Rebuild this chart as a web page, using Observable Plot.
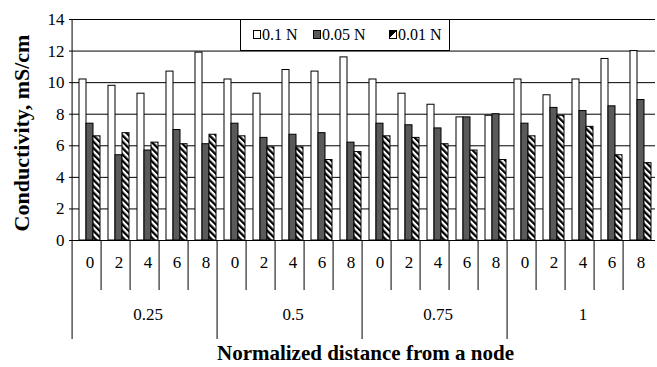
<!DOCTYPE html>
<html><head><meta charset="utf-8">
<script src="https://cdn.jsdelivr.net/npm/d3@7"></script>
<script src="https://cdn.jsdelivr.net/npm/@observablehq/plot@0.6"></script>
<style>
body{margin:0;background:#fff;}
#wrap{position:relative;width:657px;height:367px;font-family:"Liberation Serif",serif;color:#000;}
#legend{position:absolute;left:240px;top:19px;width:210px;height:32px;box-sizing:border-box;border:1px solid #000;background:#fff;font-size:16px;}
#legend .it{position:absolute;top:6px;white-space:nowrap;line-height:18px;}
#legend .sw{display:inline-block;width:6px;height:7px;border:1px solid #000;margin-right:1px;vertical-align:1px;}
</style></head>
<body><div id="wrap"></div>
<script>
const groups = ["0.25", "0.5", "0.75", "1"];
const distances = ["0", "2", "4", "6", "8"];
const series = ["0.1 N", "0.05 N", "0.01 N"];
const values01 = [10.2, 9.8, 9.3, 10.7, 11.9, 10.2, 9.3, 10.8, 10.7, 11.6, 10.2, 9.3, 8.6, 7.8, 7.9, 10.2, 9.2, 10.2, 11.5, 12.0];
const values005 = [7.4, 5.4, 5.7, 7.0, 6.1, 7.4, 6.5, 6.7, 6.8, 6.2, 7.4, 7.3, 7.1, 7.8, 8.0, 7.4, 8.4, 8.2, 8.5, 8.9];
const values001 = [6.6, 6.8, 6.2, 6.1, 6.7, 6.6, 5.9, 5.9, 5.1, 5.6, 6.6, 6.5, 6.1, 5.7, 5.1, 6.6, 7.9, 7.2, 5.4, 4.9];
const yTicks = [0, 2, 4, 6, 8, 10, 12, 14];
const yLabel = "Conductivity, mS/cm";
const xLabel = "Normalized distance from a node";

const seriesValues = [values01, values005, values001];
const fills = ["#fff", "#5a5a5a", "url(#hatch)"];
const W = 657, H = 367, mL = 74, mR = 1, mT = 19, mB = 127;
const frameH = H - mT - mB;

const keys = [];
groups.forEach(g => distances.forEach(d => keys.push(g + "|" + d)));
const slots = keys.map((k, i) => ({key: k, group: k.split("|")[0], dist: k.split("|")[1], i}));
const rows = [];
series.forEach((s, si) => keys.forEach((k, i) => rows.push({key: k, series: s, value: seriesValues[si][i]})));
const bw = (W - mL - mR) / keys.length / 4;

const chart = Plot.plot({
  width: W, height: H, marginLeft: mL, marginRight: mR, marginTop: mT, marginBottom: mB,
  style: {fontFamily: "'Liberation Serif', serif", fontSize: "16px", color: "#000", background: "#fff"},
  fx: {domain: keys, padding: 0, axis: null},
  x: {domain: series, paddingInner: 0, paddingOuter: 0.5, axis: null},
  y: {domain: [0, 14], axis: null},
  marks: [
    Plot.gridY(yTicks, {stroke: "#000", strokeOpacity: 1, strokeWidth: 1}),
    ...series.map((s, si) => Plot.barY(rows.filter(r => r.series === s), {fx: "key", x: "series", y: "value", fill: fills[si], stroke: "#000", strokeWidth: 1})),
    Plot.ruleY([0], {stroke: "#000"}),
    Plot.ruleX(slots.filter(d => d.i === 0), {fx: "key", x: () => series[0], dx: -1.5 * bw, insetBottom: -99, stroke: "#000"}),
    Plot.ruleX(slots.filter(d => d.i > 0 && d.dist === distances[0]), {fx: "key", x: () => series[0], dx: -1.5 * bw, insetTop: frameH, insetBottom: -99, stroke: "#000"}),
    Plot.ruleX(slots.filter(d => d.i === keys.length - 1), {fx: "key", x: () => series[2], dx: 1.5 * bw, insetTop: frameH, insetBottom: -99, stroke: "#000"}),
    Plot.ruleX(slots.filter(d => d.dist !== distances[0]), {fx: "key", x: () => series[0], dx: -1.5 * bw, insetTop: frameH, insetBottom: -50, stroke: "#000"}),
    Plot.axisY(yTicks, {tickSize: 6, tickPadding: 5, fontSize: 17, label: null, stroke: "#000"}),
    Plot.text(slots, {fx: "key", text: "dist", frameAnchor: "bottom", dy: 27, fontSize: 17}),
    Plot.text(slots.filter(d => d.dist === distances[2]), {fx: "key", text: "group", frameAnchor: "bottom", dy: 79, fontSize: 17}),
    Plot.text([yLabel], {facet: "super", frameAnchor: "left", textAnchor: "middle", rotate: -90, dx: -54, dy: 3, fontWeight: "bold", fontSize: 22}),
    Plot.text([xLabel], {facet: "super", frameAnchor: "bottom", dy: 119, fontWeight: "bold", fontSize: 21})
  ]
});

const svg = chart.tagName.toLowerCase() === "svg" ? chart : chart.querySelector("svg");
const ns = "http://www.w3.org/2000/svg";
const defs = document.createElementNS(ns, "defs");
defs.innerHTML = '<pattern id="hatch" patternUnits="userSpaceOnUse" width="4.5" height="4.5" patternTransform="rotate(-45)"><rect width="4.5" height="4.5" fill="#fff"/><rect width="2.3" height="4.5" fill="#000"/></pattern>';
svg.insertBefore(defs, svg.firstChild);

const wrap = document.getElementById("wrap");
wrap.appendChild(chart);

const legend = document.createElement("div");
legend.id = "legend";
const legLeft = [12, 72, 148];
series.forEach((s, si) => {
  const it = document.createElement("span");
  it.className = "it";
  it.style.left = legLeft[si] + "px";
  const sw = document.createElement("span");
  sw.className = "sw";
  sw.style.background = si === 0 ? "#fff" : si === 1 ? "#5a5a5a" : "linear-gradient(135deg,#000 0 50%,#fff 50% 100%)";
  it.appendChild(sw);
  it.appendChild(document.createTextNode(s));
  legend.appendChild(it);
});
wrap.appendChild(legend);
</script>
</body></html>
